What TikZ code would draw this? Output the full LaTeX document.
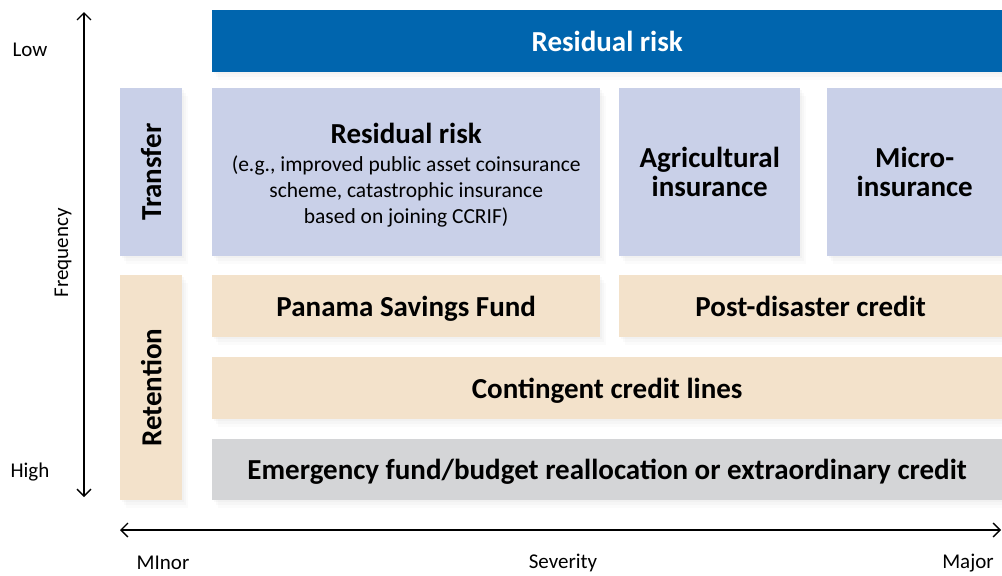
\documentclass[tikz,border=0pt]{standalone}
\usepackage{fontspec}
\setmainfont{Carlito}
\usetikzlibrary{arrows.meta,shadows}
\definecolor{bannerblue}{HTML}{0065AE}
\definecolor{transferblue}{HTML}{C9D0E8}
\definecolor{retainbeige}{HTML}{F3E2CB}
\definecolor{lastgrey}{HTML}{D4D5D7}
\newcommand{\exfont}{\mdseries\fontsize{21.5}{26.5}\selectfont}
\begin{document}
\begin{tikzpicture}[x=1pt, y=-1pt,
  softshadow/.style={
    drop shadow={shadow xshift=2pt, shadow yshift=-2pt, opacity=.05},
    drop shadow={shadow xshift=4pt, shadow yshift=-5pt, opacity=.04},
    drop shadow={shadow xshift=6pt, shadow yshift=-8pt, opacity=.03}},
  box/.style={anchor=north west, inner sep=0pt, align=center, softshadow,
    font=\bfseries\fontsize{29}{29}\selectfont},
  oneline/.style={text height=20pt, text depth=0pt},
  sidebox/.style={box, fill=#1, minimum width=62pt, minimum height=168pt},
  sidelabel/.style={rotate=90, font=\bfseries\fontsize{29}{29}\selectfont},
  axislabel/.style={font=\fontsize{21}{23}\selectfont},
  >={Straight Barb[length=7pt, width=14pt, line width=1.3pt]}]
\useasboundingbox (0,0) rectangle (1002,576);

% top banner
\node [box, oneline, fill=bannerblue, text=white, minimum width=790pt, minimum height=62pt]
  (banner) at (212,10) {Residual risk};

% transfer row
\node [sidebox=transferblue] (transfer) at (120,88) {};
\node [sidelabel] (transferlbl) at (transfer.center) {Transfer};
\node [box, fill=transferblue, minimum width=388pt, minimum height=168pt] (residual) at (212,88) {};
\node [align=center, inner sep=0pt, font=\bfseries\fontsize{29}{29}\selectfont]
  (residualtxt) at ([yshift=-3pt]residual.center)
  {Residual risk\\[-1pt]
   \exfont (e.g., improved public asset coinsurance\\[-2.5pt]
   \exfont scheme, catastrophic insurance\\[-3pt]
   \exfont based on joining CCRIF)};
\node [box, fill=transferblue, minimum width=181pt, minimum height=168pt] (agri) at (619,88)
  {Agricultural\\insurance};
\node [box, fill=transferblue, minimum width=175pt, minimum height=168pt] (micro) at (827,88)
  {Micro-\\insurance};

% retention rows
\node [sidebox=retainbeige, minimum height=225pt] (retention) at (120,275) {};
\node [sidelabel] (retentionlbl) at (retention.center) {Retention};
\node [box, oneline, fill=retainbeige, minimum width=388pt, minimum height=62pt] (panama) at (212,275)
  {Panama Savings Fund};
\node [box, oneline, fill=retainbeige, minimum width=383pt, minimum height=62pt] (postdis) at (619,275)
  {Post-disaster credit};
\node [box, oneline, fill=retainbeige, minimum width=790pt, minimum height=62pt] (contingent) at (212,357)
  {Contingent credit lines};
\node [box, oneline, fill=lastgrey, minimum width=790pt, minimum height=61pt] (emergency) at (212,439)
  {Emergency fund/budget reallocation or extraordinary credit};

% frequency axis
\coordinate (ftop) at (84,12);
\coordinate (fbot) at (84,497);
\draw [<->, line width=1.3pt] (ftop) -- (fbot);
\node [axislabel] (low) at (30,50) {Low};
\node [axislabel] (high) at (30,472) {High};
\node [axislabel, rotate=90] (freq) at (63,253) {Frequency};

% severity axis
\coordinate (sleft) at (120,530);
\coordinate (sright) at (1001,530);
\draw [<->, line width=1.3pt] (sleft) -- (sright);
\node [axislabel] (minor) at (163,563) {MInor};
\node [axislabel] (sev) at (563,563) {Severity};
\node [axislabel] (major) at (968,563) {Major};

\end{tikzpicture}
\end{document}
